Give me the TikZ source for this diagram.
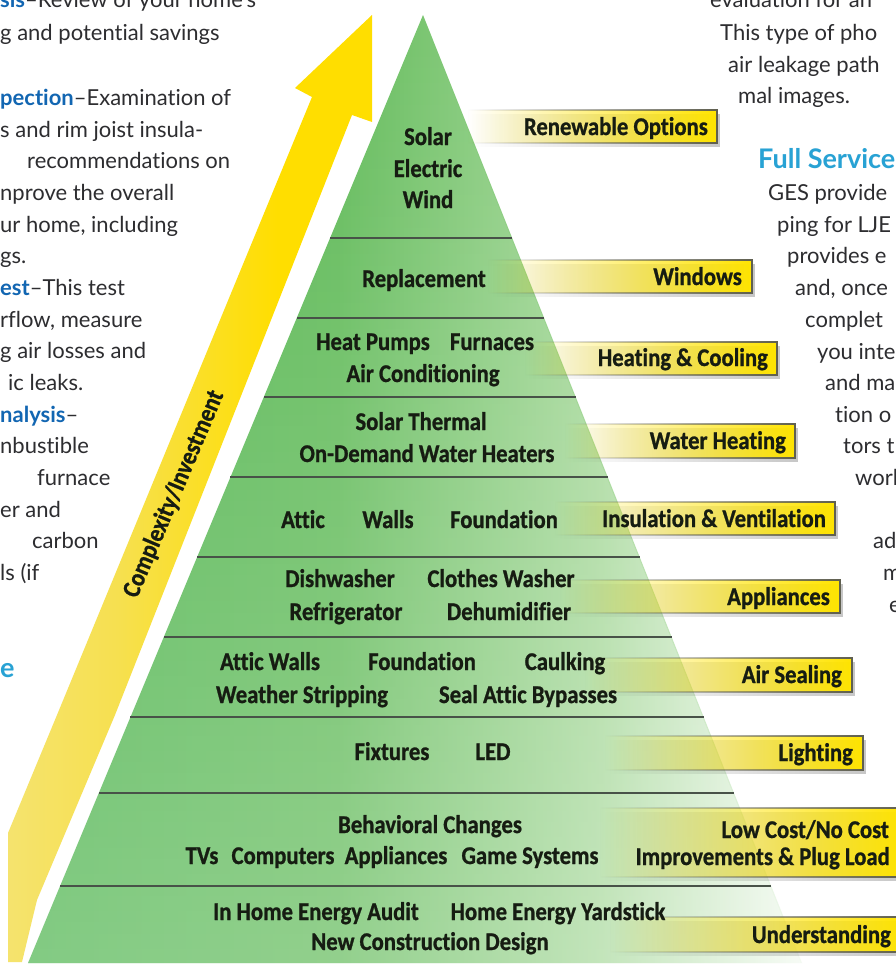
\documentclass[tikz,border=0pt]{standalone}
\usepackage{fontspec}
\usetikzlibrary{shapes,arrows}
\usetikzlibrary{calc}
\usetikzlibrary{fadings}

\newfontfamily\pyrfont[FakeStretch=0.89,FakeBold=0.9,Ligatures=NoCommon]{Carlito}
\newfontfamily\bodyfont[Ligatures=NoCommon]{Lato}

\definecolor{pyrdark}{RGB}{50,172,62}
\definecolor{pyrmid}{RGB}{100,188,92}
\definecolor{pyrlight}{RGB}{170,218,158}
\definecolor{sepgray}{RGB}{72,82,72}
\definecolor{txtdark}{RGB}{22,28,18}
\definecolor{tabyellow}{RGB}{255,228,0}
\definecolor{tabedge}{RGB}{95,95,80}
\definecolor{arrowpale}{RGB}{244,232,160}
\definecolor{arrowmid}{RGB}{246,224,80}
\definecolor{arrowyellow}{RGB}{255,222,0}
\definecolor{bodygray}{RGB}{45,45,48}
\definecolor{hiblue}{RGB}{18,102,178}
\definecolor{headblue}{RGB}{40,162,212}

\pgfdeclarehorizontalshading{pyrshade}{100bp}{color(0bp)=(pyrdark); color(45bp)=(pyrmid); color(62bp)=(pyrlight); color(77bp)=(white); color(100bp)=(white)}
\pgfdeclarehorizontalshading{arrowshade}{100bp}{color(0bp)=(arrowpale); color(40bp)=(arrowmid); color(62bp)=(arrowyellow); color(100bp)=(arrowyellow)}
\tikzfading[name=tabfade, left color=transparent!100, middle color=transparent!0, right color=transparent!0]

\begin{document}
\begin{tikzpicture}[x=1pt, y=-1pt,
  lvl/.style={font=\pyrfont\bfseries\fontsize{25.5}{32}\selectfont, text=txtdark, inner sep=0pt, anchor=base},
  tabtext/.style={lvl, anchor=base east},
  tabbar/.style={fill=tabyellow, draw=tabedge, line width=1.3pt, path fading=tabfade},
  tabshadow/.style={fill=black, fill opacity=0.22, path fading=tabfade},
  sepline/.style={draw=sepgray, line width=2.2pt},
  body/.style={font=\bodyfont\fontsize{22}{32}\selectfont, text=bodygray, inner sep=0pt, anchor=base west},
  head/.style={font=\bodyfont\bfseries\fontsize{27}{32}\selectfont, text=headblue, inner sep=0pt, anchor=base west}]

\useasboundingbox (0,0) rectangle (896,969);
\clip (0,0) rectangle (896,969);
\fill[white] (0,0) rectangle (896,969);

% left column
\node[body] (l1) at (0,8) {\textcolor{hiblue}{\bfseries sis}–Review of your home’s};
\node[body] (l2) at (0,40) {g and potential savings};
\node[body] (l3) at (0,105) {\textcolor{hiblue}{\bfseries pection}–Examination of};
\node[body] (l4) at (0,137) {s and rim joist insula-};
\node[body] (l5) at (27,168) {recommendations on};
\node[body] (l6) at (0,200) {nprove the overall};
\node[body] (l7) at (0,232) {ur home, including};
\node[body] (l8) at (0,263) {gs.};
\node[body] (l9) at (0,295) {\textcolor{hiblue}{\bfseries est}–This test};
\node[body] (l10) at (0,327) {rflow, measure};
\node[body] (l11) at (0,358) {g air losses and};
\node[body] (l12) at (8,390) {ic leaks.};
\node[body] (l13) at (0,422) {\textcolor{hiblue}{\bfseries nalysis}–};
\node[body] (l14) at (0,453) {nbustible};
\node[body] (l15) at (37,485) {furnace};
\node[body] (l16) at (0,517) {er and};
\node[body] (l17) at (32,548) {carbon};
\node[body] (l18) at (0,580) {ls (if};
\node[head] (lhead) at (0,677) {e};

% right column
\node[body] (r1) at (710,7) {evaluation for an};
\node[body] (r2) at (720,40) {This type of pho};
\node[body] (r3) at (728,72) {air leakage path};
\node[body] (r4) at (738,103) {mal images.};
\node[head] (rhead) at (758,168) {Full Service};
\node[body] (r5) at (768,200) {GES provide};
\node[body] (r6) at (777,232) {ping for LJE};
\node[body] (r7) at (787,263) {provides e};
\node[body] (r8) at (795,295) {and, once};
\node[body] (r9) at (805,327) {complet};
\node[body] (r10) at (817,359) {you inte};
\node[body] (r11) at (825,390) {and ma};
\node[body] (r12) at (835,422) {tion o};
\node[body] (r13) at (843,453) {tors t};
\node[body] (r14) at (855,485) {worl};
\node[body] (r15) at (873,548) {ad};
\node[body] (r16) at (883,580) {m};
\node[body] (r17) at (889,612) {e};

% arrow
\shade[shading=arrowshade] (372,15) -- (295,88) -- (312,97) -- (57,715) -- (8,833) -- (8,962)
  -- (22,962) -- (37,900) -- (115,715) -- (352,115) -- (372,122) -- cycle;
\node[lvl, rotate=67, anchor=center] (cplx) at (174,494) {Complexity/Investment};

% pyramid
\path[shading=pyrshade] (423,15) -- (28,963) -- (802,963) -- cycle;
\fill[white, fill opacity=0.3, path fading=north] (423,15) -- (28,963) -- (802,963) -- cycle;

\draw[sepline] (330,238) -- (512,238);
\draw[sepline] (297,318) -- (544,318);
\draw[sepline] (264,397) -- (576,397);
\draw[sepline] (230,477) -- (608,477);
\draw[sepline] (197,557) -- (640,557);
\draw[sepline] (164,637) -- (672,637);
\draw[sepline] (130,717) -- (704,717);
\draw[sepline] (99,793) -- (734,793);
\draw[sepline] (60,886) -- (771,886);

% tabs
\fill[tabshadow] (470,114) rectangle (720,147);
\draw[tabbar] (468,110) rectangle (717,143);
\node[tabtext] (tRenew) at (708,135) {Renewable Options};

\fill[tabshadow] (490,264) rectangle (755,297);
\draw[tabbar] (488,260) rectangle (752,293);
\node[tabtext] (tWin) at (742,285) {Windows};

\fill[tabshadow] (527,346) rectangle (780,379);
\draw[tabbar] (525,342) rectangle (777,375);
\node[tabtext] (tHeat) at (768,366) {Heating \& Cooling};

\fill[tabshadow] (567,428) rectangle (798,462);
\draw[tabbar] (565,424) rectangle (795,458);
\node[tabtext] (tWater) at (786,449) {Water Heating};

\fill[tabshadow] (557,506) rectangle (838,539);
\draw[tabbar] (555,502) rectangle (835,535);
\node[tabtext] (tIns) at (826,527) {Insulation \& Ventilation};

\fill[tabshadow] (562,584) rectangle (843,617);
\draw[tabbar] (560,580) rectangle (840,613);
\node[tabtext] (tAppl) at (830,605) {Appliances};

\fill[tabshadow] (587,662) rectangle (855,696);
\draw[tabbar] (585,658) rectangle (852,692);
\node[tabtext] (tAir) at (842,683) {Air Sealing};

\fill[tabshadow] (607,740) rectangle (866,774);
\draw[tabbar] (605,736) rectangle (863,770);
\node[tabtext] (tLight) at (853,761) {Lighting};

\fill[tabshadow] (602,812) rectangle (908,881);
\draw[tabbar] (600,808) rectangle (905,877);
\node[tabtext] (tLow) at (889,838) {Low Cost/No Cost};
\node[tabtext] (tPlug) at (890,865) {Improvements \& Plug Load};

\fill[tabshadow] (612,921) rectangle (908,956);
\draw[tabbar] (610,917) rectangle (905,952);
\node[tabtext] (tUnder) at (891,943) {Understanding};

% pyramid labels
\node[lvl] (solar) at (428,145) {Solar};
\node[lvl] (elec) at (428,177) {Electric};
\node[lvl] (wind) at (428,208) {Wind};
\node[lvl] (repl) at (424,287) {Replacement};
\node[lvl] (heatp) at (373,350) {Heat Pumps};
\node[lvl] (furn) at (492,350) {Furnaces};
\node[lvl] (aircon) at (423,382) {Air Conditioning};
\node[lvl] (solth) at (421,430) {Solar Thermal};
\node[lvl] (ondem) at (427,462) {On-Demand Water Heaters};
\node[lvl] (attic) at (303,528) {Attic};
\node[lvl] (walls) at (388,528) {Walls};
\node[lvl] (found) at (504,528) {Foundation};
\node[lvl] (dish) at (340,587) {Dishwasher};
\node[lvl] (clothes) at (501,587) {Clothes Washer};
\node[lvl] (fridge) at (346,620) {Refrigerator};
\node[lvl] (dehum) at (509,620) {Dehumidifier};
\node[lvl] (atwalls) at (270,670) {Attic Walls};
\node[lvl] (foundb) at (422,670) {Foundation};
\node[lvl] (caulk) at (565,670) {Caulking};
\node[lvl] (weather) at (302,703) {Weather Stripping};
\node[lvl] (seal) at (528,703) {Seal Attic Bypasses};
\node[lvl] (fixt) at (392,760) {Fixtures};
\node[lvl] (led) at (493,760) {LED};
\node[lvl] (behav) at (430,833) {Behavioral Changes};
\node[lvl] (tvs) at (202,864) {TVs};
\node[lvl] (comp) at (283,864) {Computers};
\node[lvl] (appl) at (396,864) {Appliances};
\node[lvl] (game) at (530,864) {Game Systems};
\node[lvl] (audit) at (316,920) {In Home Energy Audit};
\node[lvl] (yard) at (558,920) {Home Energy Yardstick};
\node[lvl] (newcon) at (430,950) {New Construction Design};

\end{tikzpicture}
\end{document}
